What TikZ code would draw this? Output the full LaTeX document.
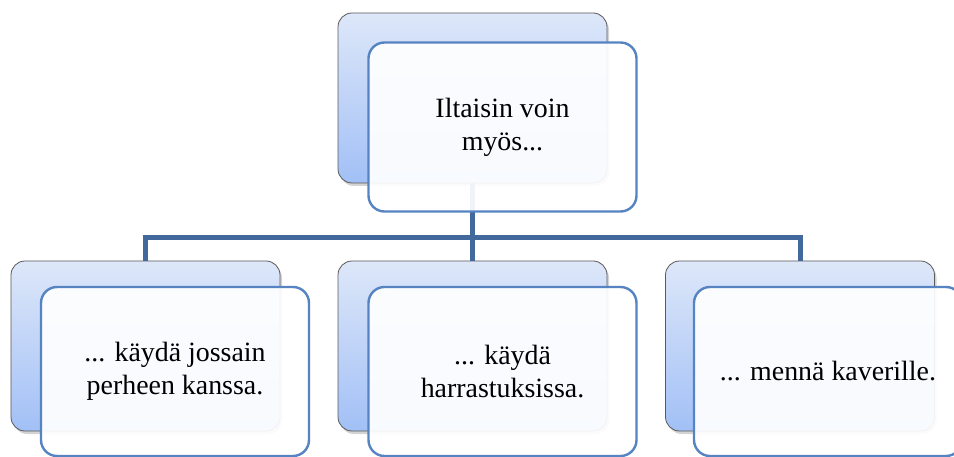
\documentclass[tikz,border=0pt]{standalone}
\usepackage{fontspec}
\setmainfont{Liberation Serif}
\usetikzlibrary{shadows}
\definecolor{backtop}{HTML}{DDE7F9}
\definecolor{backbot}{HTML}{A2C0F6}
\definecolor{backline}{HTML}{5A5A5A}
\definecolor{frontline}{HTML}{5683C2}
\definecolor{connline}{HTML}{41699C}
\tikzset{
  backbox/.style={draw=backline, line width=0.8bp, rounded corners=14bp,
    top color=backtop, bottom color=backbot, minimum width=269bp, minimum height=170bp,
    inner sep=0pt, drop shadow={shadow xshift=2bp, shadow yshift=-3bp, opacity=0.35}},
  frontbox/.style={draw=frontline, line width=2.4bp, rounded corners=16bp,
    fill=white, fill opacity=0.92, text opacity=1, minimum width=268bp, minimum height=169bp,
    inner sep=0pt, align=center, font=\fontsize{28}{33}\selectfont},
  conn/.style={draw=connline, line width=5bp}
}
\begin{document}
\begin{tikzpicture}[x=1bp, y=-1bp]
\useasboundingbox (0,0) rectangle (954,457);
% back panels
\node[backbox] (topback) at (472.5,98) {};
\node[backbox] (leftback) at (145.5,346) {};
\node[backbox] (midback) at (472.5,346) {};
\node[backbox] (rightback) at (800,346) {};
% tree connectors
\coordinate (bus) at (472.5,238);
\draw[conn] (topback.south) -- (bus);
\draw[conn] (leftback.north) |- (bus) -| (rightback.north);
\draw[conn] (midback.north) -- (bus);
% front panels with the texts
\node[frontbox] (top) at (502.5,127) {Iltaisin voin\\myös...};
\node[frontbox] (left) at (175,371.5) {... käydä jossain\\perheen kanssa.};
\node[frontbox] (mid) at (502.5,371.5) {... käydä\\harrastuksissa.};
\node[frontbox] (right) at (828,371.5) {... mennä kaverille.};
\end{tikzpicture}
\end{document}
